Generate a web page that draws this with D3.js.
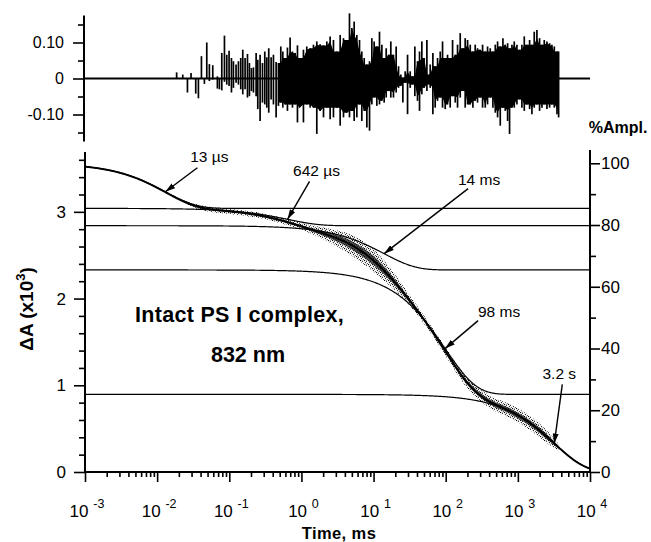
<!DOCTYPE html>
<html>
<head>
<meta charset="utf-8">
<script src="https://cdn.jsdelivr.net/npm/d3@7/dist/d3.min.js"></script>
<style>
    body { margin: 0; background: #fff; }
    svg { display: block; }
</style>
</head>
<body>
<svg id="chart" width="651" height="542"></svg>
<script>
// Decay components of the fit (lifetime in ms, amplitude in dA x10^3)
const lifetimes = [0.013, 0.642, 14, 98, 3200];
const lifetimeLabels = ['13 \u00b5s', '642 \u00b5s', '14 ms', '98 ms', '3.2 s'];
const amplitudes = [0.52, 0.20, 0.51, 1.435, 0.895];

// Axis ticks
const timeDecades = [-3, -2, -1, 0, 1, 2, 3, 4];
const dATicks = [0, 1, 2, 3];
const dAMinorTicks = [0.2, 0.4, 0.6, 0.8, 1.2, 1.4, 1.6, 1.8, 2.2, 2.4, 2.6, 2.8, 3.2, 3.4, 3.6];
const pctTicks = [0, 20, 40, 60, 80, 100];
const pctMinorTicks = [10, 30, 50, 70, 90];
const residTicks = [-0.10, 0, 0.10];
const residTickLabels = ['-0.10', '0', '0.10'];
const residMinorTicks = [-0.15, -0.05, 0.05, 0.15];

// Spread of the measured points around the fit (log10 time in ms, half width in dA)
const cloudLogT = [-1.7, -1.4, -1.0, -0.6, -0.2, 0.1, 0.4, 0.7, 1.0, 1.25, 1.5, 1.75, 2.0, 2.3, 2.6, 2.9, 3.2, 3.45, 3.56];
const cloudHalf = [0.01, 0.025, 0.03, 0.03, 0.035, 0.045, 0.08, 0.12, 0.13, 0.10, 0.06, 0.045, 0.05, 0.06, 0.07, 0.08, 0.08, 0.065, 0.04];

// Residuals: log10 time (ms), upper and lower excursion
const residLogT = [
    -1.73, -1.645, -1.58, -1.53, -1.465, -1.428, -1.386, -1.345, -1.312, -1.276,
    -1.229, -1.165, -1.137, -1.104, -1.067, -1.035, -1.003, -0.970, -0.943, -0.906,
    -0.873, -0.841, -0.813, -0.781, -0.748, -0.721, -0.693, -0.665, -0.628, -0.605,
    -0.573, -0.540, -0.508, -0.480, -0.453, -0.420, -0.388, -0.351, -0.319, -0.286,
    -0.258, -0.226, -0.194, -0.157, -0.124, -0.087, -0.055, -0.027,
    0.028, 0.074, 0.121, 0.167, 0.213, 0.259, 0.306, 0.352, 0.398, 0.444,
    0.491, 0.537, 0.583, 0.629, 0.666, 0.699, 0.731, 0.768, 0.805, 0.837,
    0.870, 0.907, 0.944, 0.976, 1.008, 1.045, 1.082, 1.115, 1.147, 1.175,
    1.207, 1.239, 1.276, 1.313, 1.346, 1.378, 1.406, 1.438, 1.471, 1.508,
    1.540, 1.572, 1.609, 1.637, 1.669, 1.702, 1.739, 1.776,
    1.785, 1.822, 1.854, 1.887, 1.924, 1.956, 1.993, 2.025, 2.062, 2.095,
    2.132, 2.164, 2.201, 2.238, 2.270, 2.303, 2.340, 2.377, 2.409, 2.441,
    2.478, 2.511, 2.548, 2.580, 2.617, 2.654, 2.687, 2.719, 2.756, 2.793,
    2.825, 2.858, 2.885, 2.918, 2.950, 2.987, 3.024, 3.056, 3.089, 3.126,
    3.163, 3.195, 3.227, 3.264, 3.301, 3.334, 3.366, 3.403, 3.440, 3.472,
    3.505, 3.542, 3.565
];
const residHi = [
    0.017, 0.011, 0, 0.015, 0, 0, 0.062, 0, 0.100, 0.040,
    0.037, 0.006, 0, 0.071, 0.119, 0.066, 0.077, 0.057, 0.048, 0.039,
    0.048, 0.057, 0.080, 0.057, 0.068, 0.043, 0.029, 0.031, 0.071, 0.052,
    0.066, 0.043, 0.075, 0.059, 0.084, 0.059, 0.066, 0.046, 0.043, 0.089,
    0.075, 0.057, 0.086, 0.114, 0.075, 0.071, 0.092, 0.057,
    0.080, 0.089, 0.084, 0.094, 0.103, 0.095, 0.092, 0.103, 0.117, 0.107,
    0.075, 0.121, 0.112, 0.107, 0.181, 0.140, 0.158, 0.121, 0.107, 0.075,
    0.057, 0.039, 0.048, 0.112, 0.103, 0.089, 0.130, 0.094, 0.057, 0.084,
    0.066, 0.103, 0.066, 0.089, 0.034, 0.011, 0.002, 0.020, 0.066, 0.020,
    0.006, 0.089, 0.048, 0.075, 0.103, 0.057, 0.107, 0.011,
    0.039, 0.071, 0.034, 0.057, 0.075, 0.103, 0.057, 0.066, 0.057, 0.107,
    0.066, 0.094, 0.126, 0.084, 0.112, 0.107, 0.094, 0.075, 0.094, 0.084,
    0.080, 0.094, 0.075, 0.089, 0.084, 0.075, 0.094, 0.103, 0.089, 0.112,
    0.094, 0.098, 0.084, 0.094, 0.103, 0.094, 0.080, 0.094, 0.117, 0.094,
    0.107, 0.094, 0.130, 0.135, 0.112, 0.094, 0.107, 0.103, 0.098, 0.094,
    0.089, 0.075, 0.075
];
const residLo = [
    0, 0, -0.039, 0, -0.042, -0.055, 0, -0.015, 0, -0.007,
    -0.003, -0.028, -0.030, -0.033, -0.009, -0.017, -0.021, -0.039, -0.026, -0.012,
    -0.017, -0.030, -0.044, -0.030, -0.053, -0.049, -0.035, -0.039, -0.049, -0.085,
    -0.118, -0.067, -0.072, -0.081, -0.095, -0.058, -0.072, -0.108, -0.076, -0.067,
    -0.081, -0.072, -0.090, -0.072, -0.081, -0.072, -0.122, -0.081,
    -0.122, -0.072, -0.081, -0.081, -0.154, -0.090, -0.108, -0.081, -0.113, -0.108,
    -0.081, -0.131, -0.108, -0.095, -0.108, -0.090, -0.118, -0.108, -0.072, -0.118,
    -0.090, -0.136, -0.145, -0.072, -0.053, -0.076, -0.072, -0.062, -0.067, -0.053,
    -0.035, -0.053, -0.053, -0.039, -0.026, -0.021, -0.067, -0.012, -0.099, -0.026,
    -0.017, -0.049, -0.062, -0.090, -0.044, -0.026, -0.035, -0.017,
    -0.026, -0.099, -0.081, -0.062, -0.053, -0.081, -0.085, -0.072, -0.081, -0.049,
    -0.067, -0.081, -0.053, -0.035, -0.081, -0.072, -0.072, -0.081, -0.062, -0.067,
    -0.053, -0.081, -0.081, -0.072, -0.053, -0.081, -0.095, -0.108, -0.131, -0.081,
    -0.090, -0.118, -0.154, -0.081, -0.081, -0.072, -0.058, -0.081, -0.090, -0.072,
    -0.085, -0.099, -0.081, -0.072, -0.090, -0.081, -0.072, -0.085, -0.081, -0.072,
    -0.081, -0.099, -0.108
];

// Label placement relative to each arrow tip (pixels)
const arrowLayout = [
    { tail: [32, -24], label: [44, -30] },
    { tail: [22, -38], label: [29, -43] },
    { tail: [84, -65], label: [95, -69] },
    { tail: [33, -28], label: [54, -32] },
    { tail: [8, -59], label: [5, -64] }
];

const FONT = '"Liberation Sans", Arial, Helvetica, sans-serif';
const svg = d3.select('#chart').attr('font-family', FONT);

const x = d3.scaleLog().domain([1e-3, 1e4]).range([85, 590]);
const y = d3.scaleLinear().domain([0, 3.69]).range([472, 152]);
const ampTotal = d3.sum(amplitudes);
const yPct = d3.scaleLinear().domain([0, 100]).range([y(0), y(ampTotal)]);
const yRes = d3.scaleLinear().domain([-0.175, 0.175]).range([141.5, 15.5]);

// fit model
function levelAfter(k) {
    return d3.sum(amplitudes.slice(k + 1));
}
function component(k, t) {
    return levelAfter(k) + amplitudes[k] * Math.exp(-t / lifetimes[k]);
}
function totalFit(t) {
    return d3.sum(amplitudes, (a, i) => a * Math.exp(-t / lifetimes[i]));
}
const grid = d3.range(-3, 4.0001, 0.01).map(l => Math.pow(10, l));
const tx = l => x(Math.pow(10, l));

const defs = svg.append('defs');
const speck = defs.append('pattern')
    .attr('id', 'speck')
    .attr('width', 4).attr('height', 4)
    .attr('patternUnits', 'userSpaceOnUse');
[[0.5, 0.5, 0.7], [2.5, 1.2, 0.6], [1.4, 2.6, 0.6], [3.3, 3.4, 0.5]].forEach(p => {
    speck.append('circle').attr('cx', p[0]).attr('cy', p[1]).attr('r', p[2]).attr('fill', '#000');
});
defs.append('marker')
    .attr('id', 'head')
    .attr('viewBox', '0 0 10 6')
    .attr('refX', 10).attr('refY', 3)
    .attr('markerWidth', 10).attr('markerHeight', 6)
    .attr('markerUnits', 'userSpaceOnUse')
    .attr('orient', 'auto')
    .append('path').attr('d', 'M0,0 L10,3 L0,6 z').attr('fill', '#000');

// ---------- residual panel ----------
svg.append('line')
    .attr('x1', x.range()[0]).attr('x2', x.range()[1])
    .attr('y1', yRes(0)).attr('y2', yRes(0))
    .attr('stroke', '#000').attr('stroke-width', 2);

// dense part: solid core (smallest neighbouring excursion), spikes drawn on top
const denseIdx = residLogT.map((t, i) => i).filter(i => residLogT[i] > -0.35);
const n = residLogT.length;
const coreHi = i => d3.min([residHi[Math.max(i - 1, 0)], residHi[i], residHi[Math.min(i + 1, n - 1)]]);
const coreLo = i => d3.max([residLo[Math.max(i - 1, 0)], residLo[i], residLo[Math.min(i + 1, n - 1)]]);
svg.append('path')
    .datum(denseIdx)
    .attr('fill', '#000')
    .attr('d', d3.area()
        .x(i => tx(residLogT[i]))
        .y0(i => yRes(coreLo(i)))
        .y1(i => yRes(coreHi(i))));

svg.append('g')
    .selectAll('line')
    .data(residLogT)
    .enter().append('line')
    .attr('x1', d => tx(d))
    .attr('x2', d => tx(d))
    .attr('y1', (d, i) => yRes(residLo[i]))
    .attr('y2', (d, i) => yRes(residHi[i]))
    .attr('stroke', '#000')
    .attr('stroke-width', 1.7);

function styleAxis(g, size) {
    g.select('.domain').remove();
    g.selectAll('line').attr('stroke', '#000').attr('stroke-width', 1.6);
    g.selectAll('text').attr('font-family', FONT).attr('font-size', size).attr('fill', '#000');
}

const xLeft = x.range()[0] - 1;
svg.append('g')
    .attr('transform', `translate(${xLeft},0)`)
    .call(d3.axisLeft(yRes).tickValues(residTicks)
        .tickFormat((d, i) => residTickLabels[i]).tickSize(11).tickPadding(9))
    .call(styleAxis, 16);
svg.append('g')
    .attr('transform', `translate(${xLeft},0)`)
    .call(d3.axisLeft(yRes).tickValues(residMinorTicks).tickFormat('').tickSize(6))
    .call(styleAxis, 16);
svg.append('line')
    .attr('x1', xLeft).attr('x2', xLeft)
    .attr('y1', yRes.range()[0]).attr('y2', yRes.range()[1])
    .attr('stroke', '#000').attr('stroke-width', 2);

// ---------- main panel ----------
const cloudArea = frac => d3.area()
    .curve(d3.curveMonotoneX)
    .x(d => tx(d))
    .y0((d, i) => y(totalFit(Math.pow(10, d)) - cloudHalf[i] * frac))
    .y1((d, i) => y(totalFit(Math.pow(10, d)) + cloudHalf[i] * frac));

svg.append('path')
    .datum(cloudLogT)
    .attr('fill', 'url(#speck)')
    .attr('d', cloudArea(1));
svg.append('path')
    .datum(cloudLogT)
    .attr('fill', '#111')
    .attr('opacity', 0.75)
    .attr('d', cloudArea(0.4));

const fitLine = fn => d3.line()
    .x(t => x(t))
    .y(t => y(fn(t)));

lifetimes.forEach((tau, k) => {
    svg.append('path')
        .datum(grid)
        .attr('fill', 'none')
        .attr('stroke', '#000')
        .attr('stroke-width', 1.2)
        .attr('d', fitLine(t => component(k, t)));
});
svg.append('path')
    .datum(grid)
    .attr('fill', 'none')
    .attr('stroke', '#000')
    .attr('stroke-width', 1.9)
    .attr('d', fitLine(totalFit));

// arrows pointing at each component at t = lifetime
lifetimes.forEach((tau, k) => {
    const px = x(tau);
    const py = y(component(k, tau));
    const lay = arrowLayout[k];
    svg.append('line')
        .attr('x1', px + lay.tail[0]).attr('y1', py + lay.tail[1])
        .attr('x2', px).attr('y2', py)
        .attr('stroke', '#000').attr('stroke-width', 1.4)
        .attr('marker-end', 'url(#head)');
    svg.append('text')
        .attr('x', px + lay.label[0]).attr('y', py + lay.label[1])
        .attr('text-anchor', 'middle')
        .attr('font-size', 15.5)
        .text(lifetimeLabels[k]);
});

// left axis
svg.append('g')
    .attr('transform', `translate(${x.range()[0]},0)`)
    .call(d3.axisLeft(y).tickValues(dATicks).tickFormat(d3.format('d')).tickSize(11).tickPadding(8))
    .call(styleAxis, 17);
svg.append('g')
    .attr('transform', `translate(${x.range()[0]},0)`)
    .call(d3.axisLeft(y).tickValues(dAMinorTicks).tickFormat('').tickSize(6))
    .call(styleAxis, 17);
svg.append('line')
    .attr('x1', x.range()[0]).attr('x2', x.range()[0])
    .attr('y1', y(0) + 1).attr('y2', y.range()[1])
    .attr('stroke', '#000').attr('stroke-width', 2);

// right axis (% amplitude)
const xRight = x.range()[1];
svg.append('g')
    .attr('transform', `translate(${xRight},0)`)
    .call(d3.axisRight(yPct).tickValues(pctTicks).tickSize(10).tickPadding(1))
    .call(styleAxis, 17);
svg.append('g')
    .attr('transform', `translate(${xRight},0)`)
    .call(d3.axisRight(yPct).tickValues(pctMinorTicks).tickFormat('').tickSize(6))
    .call(styleAxis, 17);
svg.append('line')
    .attr('x1', xRight).attr('x2', xRight)
    .attr('y1', y(0) + 1).attr('y2', y.range()[1] - 2)
    .attr('stroke', '#000').attr('stroke-width', 2);

// bottom axis
const minorTimes = [];
timeDecades.slice(0, -1).forEach(d => {
    for (let m = 2; m <= 9; m++) minorTimes.push(m * Math.pow(10, d));
});
svg.append('g')
    .attr('transform', `translate(0,${y(0)})`)
    .call(d3.axisBottom(x).tickValues(timeDecades.map(d => Math.pow(10, d))).tickFormat('').tickSize(10))
    .call(styleAxis, 17);
svg.append('g')
    .attr('transform', `translate(0,${y(0)})`)
    .call(d3.axisBottom(x).tickValues(minorTimes).tickFormat('').tickSize(5))
    .call(styleAxis, 17);
svg.append('line')
    .attr('x1', x.range()[0] - 1).attr('x2', x.range()[1] + 1)
    .attr('y1', y(0)).attr('y2', y(0))
    .attr('stroke', '#000').attr('stroke-width', 2);

const decadeLabels = svg.append('g')
    .selectAll('text')
    .data(timeDecades)
    .enter().append('text')
    .attr('x', d => tx(d) + 2)
    .attr('y', y(0) + 45)
    .attr('text-anchor', 'middle')
    .attr('font-size', 17);
decadeLabels.append('tspan').text('10 ');
decadeLabels.append('tspan')
    .attr('dy', -9)
    .attr('font-size', 12.5)
    .text(d => String(d));

// axis titles
svg.append('text')
    .attr('x', 339).attr('y', 539)
    .attr('text-anchor', 'middle')
    .attr('font-size', 16.5).attr('font-weight', 'bold')
    .attr('letter-spacing', 0.4)
    .text('Time, ms');

svg.append('text')
    .attr('x', 618).attr('y', 133)
    .attr('text-anchor', 'middle')
    .attr('font-size', 16).attr('font-weight', 'bold')
    .text('%Ampl.');

const yTitle = svg.append('text')
    .attr('transform', 'translate(33,309) rotate(-90)')
    .attr('text-anchor', 'middle')
    .attr('font-size', 19).attr('font-weight', 'bold');
yTitle.append('tspan').text('\u0394A (x10');
yTitle.append('tspan').attr('dy', -8).attr('font-size', 13).text('3');
yTitle.append('tspan').attr('dy', 8).text(')');

svg.append('text')
    .attr('x', 135).attr('y', 322)
    .attr('font-size', 21.5).attr('font-weight', 'bold')
    .attr('letter-spacing', 0.3)
    .text('Intact PS I complex,');
svg.append('text')
    .attr('x', 248).attr('y', 362)
    .attr('text-anchor', 'middle')
    .attr('font-size', 21.5).attr('font-weight', 'bold')
    .text('832 nm');
</script>
</body>
</html>
